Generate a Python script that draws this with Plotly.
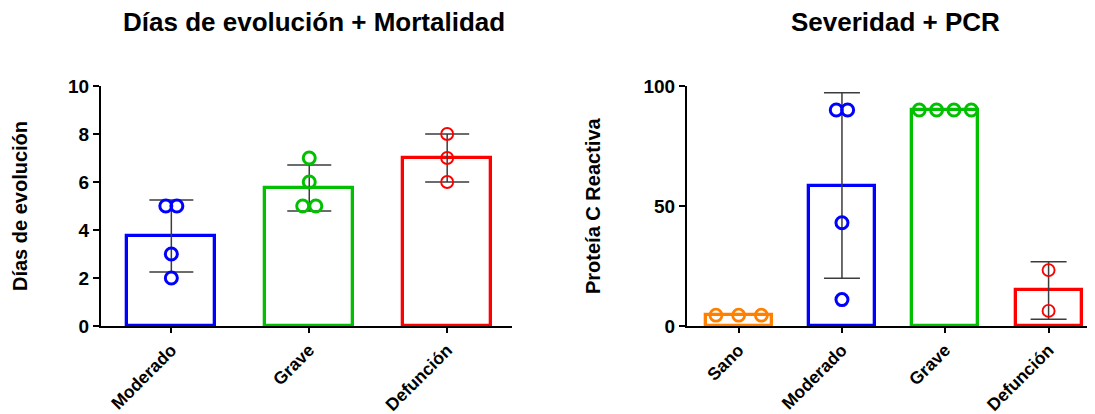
import numpy as np
import plotly.graph_objects as go

# ---------------- data ----------------
left_categories = ["Moderado", "Grave", "Defunción"]
left_values = {
    "Moderado": [5, 5, 3, 2],
    "Grave": [7, 6, 5, 5],
    "Defunción": [8, 7, 6],
}
right_categories = ["Sano", "Moderado", "Grave", "Defunción"]
right_values = {
    "Sano": [4.5, 4.5, 4.5],
    "Moderado": [90, 90, 43, 11],
    "Grave": [90, 90, 90, 90],
    "Defunción": [23.3, 6.3],
}
left_ticks = [0, 2, 4, 6, 8, 10]
right_ticks = [0, 50, 100]

# ---------------- style ----------------
colors = {"Sano": "#FF8000", "Moderado": "#0000FF", "Grave": "#00C000", "Defunción": "#FF0000"}
left_step = {"Moderado": 0.08, "Grave": 0.095, "Defunción": 0.09}
right_step = {"Sano": 0.22, "Moderado": 0.11, "Grave": 0.168, "Defunción": 0.1}
marker_lw = {"Sano": 2.8, "Moderado": 3.0, "Grave": 3.0, "Defunción": 1.9}
FONT = "Liberation Sans, Arial, sans-serif"
OFF = 8  # default page body margin
W, H = 1095 - OFF, 414 - OFF
T, B = 86 - OFF, 88
PH = H - T - B


def px(x):
    return (x - OFF) / W


def spread(vals, step):
    """Offsets that spread identical values symmetrically around the centre."""
    offs = [0.0] * len(vals)
    groups = {}
    for i, v in enumerate(vals):
        groups.setdefault(v, []).append(i)
    for v, idx in groups.items():
        n = len(idx)
        for k, i in enumerate(idx):
            offs[i] = (k - (n - 1) / 2) * step
    return offs


fig = go.Figure()


def add_panel(cats, values, steps, xa, ya, cap, msize):
    for i, c in enumerate(cats):
        v = np.array(values[c], dtype=float)
        mean = v.mean()
        sd = v.std(ddof=1) if len(v) > 1 else 0.0
        fig.add_trace(go.Bar(
            x=[i], y=[mean], width=0.64,
            marker=dict(color="rgba(255,255,255,0)", line=dict(color=colors[c], width=3.3)),
            xaxis=xa, yaxis=ya, showlegend=False, hoverinfo="skip",
        ))
        if sd > 0:
            fig.add_trace(go.Scatter(
                x=[i], y=[mean], mode="markers", marker=dict(size=0.1, color="rgba(0,0,0,0)"),
                error_y=dict(type="data", array=[sd], visible=True, color="#3c3c3c",
                             thickness=1.5, width=cap),
                xaxis=xa, yaxis=ya, showlegend=False, hoverinfo="skip",
            ))
        offs = spread(list(v), steps[c])
        fig.add_trace(go.Scatter(
            x=[i + o for o in offs], y=list(v), mode="markers",
            marker=dict(symbol="circle-open", size=msize, color=colors[c],
                        line=dict(width=marker_lw[c], color=colors[c])),
            xaxis=xa, yaxis=ya, showlegend=False, cliponaxis=False,
        ))


add_panel(left_categories, left_values, left_step, "x", "y", 22, 12)
add_panel(right_categories, right_values, right_step, "x2", "y2", 18, 12)

tickfont = dict(family=FONT, size=19, color="black", weight="bold")
catfont = dict(family=FONT, size=17.5, color="black", weight="bold")

axis_common = dict(showline=True, linecolor="black", linewidth=2, ticks="outside",
                   tickcolor="black", tickwidth=2, showgrid=False, zeroline=False,
                   automargin=False)

fig.update_layout(
    template="none",
    width=W, height=H, autosize=False,
    paper_bgcolor="white", plot_bgcolor="white",
    margin=dict(l=0, r=0, t=T, b=B, pad=0),
    bargap=0,
    xaxis=dict(domain=[px(101), px(512)], range=[-0.51, 2.47], anchor="y",
               tickvals=list(range(len(left_categories))), ticktext=left_categories,
               tickangle=-45, ticklen=5, tickfont=catfont, **axis_common),
    yaxis=dict(anchor="x", range=[0, 10], tickvals=left_ticks, ticklen=6,
               tickfont=tickfont, **axis_common),
    xaxis2=dict(domain=[px(687), px(1093)], range=[-0.5, 3.43],
                tickvals=list(range(len(right_categories))), ticktext=right_categories,
                tickangle=-45, ticklen=5, tickfont=catfont, anchor="y2", **axis_common),
    yaxis2=dict(anchor="x2", range=[0, 100], tickvals=right_ticks, ticklen=6,
                tickfont=tickfont, **axis_common),
    shapes=[
        dict(type="line", xref="paper", yref="paper", x0=px(94), x1=px(101), y0=0, y1=0,
             line=dict(color="black", width=2)),
        dict(type="line", xref="paper", yref="paper", x0=px(681), x1=px(687), y0=0, y1=0,
             line=dict(color="black", width=2)),
    ],
    annotations=[
        dict(text="Días de evolución + Mortalidad", x=px(314), y=1 + (86 - 22) / PH,
             xref="paper", yref="paper", showarrow=False, xanchor="center", yanchor="middle",
             font=dict(family=FONT, size=26, color="black", weight="bold")),
        dict(text="Severidad + PCR", x=px(895), y=1 + (86 - 22) / PH,
             xref="paper", yref="paper", showarrow=False, xanchor="center", yanchor="middle",
             font=dict(family=FONT, size=26, color="black", weight="bold")),
        dict(text="Días de evolución", x=px(20), y=0.5, xref="paper", yref="paper",
             showarrow=False, textangle=-90, xanchor="center", yanchor="middle",
             font=dict(family=FONT, size=20, color="black", weight="bold")),
        dict(text="Proteía C Reactiva", x=px(593), y=0.5, xref="paper", yref="paper",
             showarrow=False, textangle=-90, xanchor="center", yanchor="middle",
             font=dict(family=FONT, size=20, color="black", weight="bold")),
    ],
)

fig.write_html("out.html")
